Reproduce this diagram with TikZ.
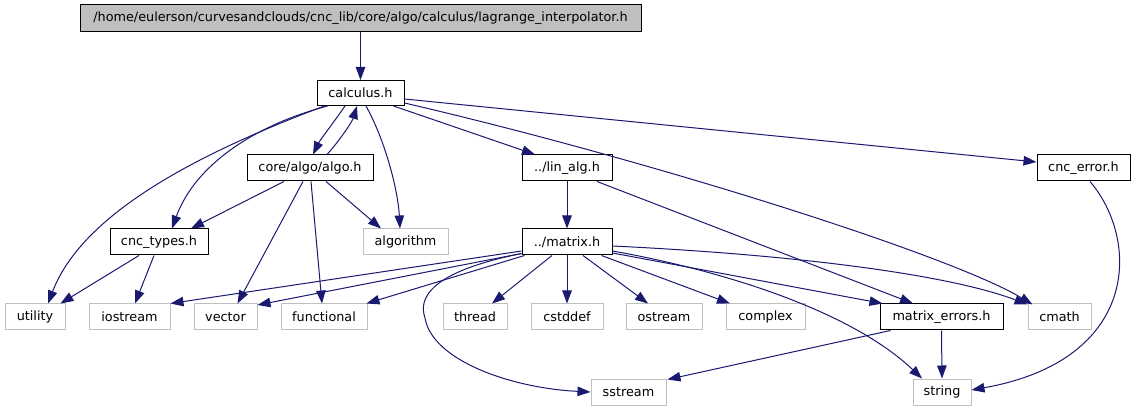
\documentclass[tikz,border=0pt]{standalone}
\usepackage{fontspec}
\setmainfont{DejaVu Sans}
\usetikzlibrary{arrows.meta,calc}
\definecolor{edgec}{HTML}{191970}
\definecolor{extc}{HTML}{BFBFBF}
\definecolor{rootfill}{HTML}{BFBFBF}
\begin{document}
\begin{tikzpicture}[x=1pt,y=-1pt,
  every node/.style={font=\fontsize{12.8}{15}\selectfont, inner sep=0pt, minimum height=26pt, anchor=center},
  doc/.style={draw=black, line width=1pt},
  ext/.style={draw=extc, line width=1pt},
  rootn/.style={draw=black, line width=1pt, fill=rootfill},
  e/.style={draw=edgec, line width=1pt, -{Triangle[length=13pt,width=9.5pt]}}]
\useasboundingbox (0,0) rectangle (1137,411);
% nodes
\node[rootn, minimum width=561pt, minimum height=27pt] (top) at (360.5,18.5) {/home/eulerson/curvesandclouds/cnc\_lib/core/algo/calculus/lagrange\_interpolator.h};
\node[doc, minimum width=87pt, minimum height=25pt] (calc) at (360.5,93) {calculus.h};
\node[doc, minimum width=126pt] (algo) at (310,168) {core/algo/algo.h};
\node[doc, minimum width=90pt] (lin) at (567,168) {../lin\_alg.h};
\node[doc, minimum width=93pt] (cerr) at (1083.5,168) {cnc\_error.h};
\node[doc, minimum width=98pt] (ctypes) at (159,242) {cnc\_types.h};
\node[ext, minimum width=85pt] (algm) at (405.5,242) {algorithm};
\node[doc, minimum width=90pt] (matrix) at (567,242) {../matrix.h};
\node[ext, minimum width=60pt] (util) at (35,317) {utility};
\node[ext, minimum width=81pt] (ios) at (129.5,317) {iostream};
\node[ext, minimum width=63pt] (vec) at (225.5,317) {vector};
\node[ext, minimum width=86pt] (func) at (324,317) {functional};
\node[ext, minimum width=64pt] (thread) at (475,317) {thread};
\node[ext, minimum width=72pt] (cstd) at (567,317) {cstddef};
\node[ext, minimum width=76pt] (ostr) at (664,317) {ostream};
\node[ext, minimum width=79pt] (cplx) at (765.5,317) {complex};
\node[doc, minimum width=123pt] (merr) at (941.5,317) {matrix\_errors.h};
\node[ext, minimum width=63pt] (cmath) at (1059.5,317) {cmath};
\node[ext, minimum width=75pt] (sstr) at (628.5,392) {sstream};
\node[ext, minimum width=58pt] (str) at (942,392) {string};
% edges
\draw[e] (top.south) -- (calc.north);
\draw[e] ($(calc.south west)+(8,0)$) .. controls (180,160) and (80,220) .. ($(util.north)+(13,0)$);
\draw[e] ($(calc.south west)+(11,0)$) .. controls (255,125) and (195,165) .. ($(ctypes.north)+(13,0)$);
\draw[e] ($(calc.south)+(-15.5,0)$) .. controls (334,122) and (320,140) .. ($(algo.north)+(3,0)$);
\draw[e] ($(algo.north)+(17,0)$) .. controls (340,140) and (352,122) .. ($(calc.south)+(-3.5,0)$);
\draw[e] ($(calc.south)+(5.5,0)$) .. controls (385,140) and (398,190) .. ($(algm.north)+(-5.5,0)$);
\draw[e] ($(calc.south east)+(-11,0)$) -- ($(lin.north)+(-32,0)$);
\draw[e] ($(calc.east)+(0,10)$) .. controls (650,160) and (950,255) .. ($(cmath.north west)+(5,1)$);
\draw[e] ($(calc.east)+(0,6)$) -- ($(cerr.west)+(0,-6)$);
\draw[e] ($(algo.south)+(-26,0)$) -- ($(ctypes.north)+(32,0)$);
\draw[e] ($(algo.south)+(-7,0)$) -- ($(vec.north)+(12,0)$);
\draw[e] ($(algo.south)+(1,0)$) -- ($(func.north)+(-2,0)$);
\draw[e] ($(algo.south)+(16,0)$) -- ($(algm.north)+(-24.5,0)$);
\draw[e] ($(ctypes.south)+(-20,0)$) -- ($(util.north east)+(-5,0)$);
\draw[e] ($(ctypes.south)+(-5,0)$) -- ($(ios.north)+(5.5,0)$);
\draw[e] (lin.south) -- (matrix.north);
\draw[e] ($(lin.south)+(30,0)$) -- ($(merr.north)+(-28.5,0)$);
\draw[e] ($(matrix.west)+(0,9)$) -- (ios.north east);
\draw[e] ($(matrix.south west)+(0,-2)$) -- ($(vec.north east)+(0,1.5)$);
\draw[e] ($(matrix.south west)+(3,0)$) -- ($(func.north east)+(-1,0)$);
\draw[e] ($(matrix.south west)+(0,-2)$) .. controls (430,272) and (418,298) .. (425,318) .. controls (432,360) and (510,388) .. (sstr.west);
\draw[e] ($(matrix.south)+(-15,0)$) -- ($(thread.north)+(17,0)$);
\draw[e] (matrix.south) -- (cstd.north);
\draw[e] ($(matrix.south)+(16,0)$) -- ($(ostr.north)+(-16,0)$);
\draw[e] ($(matrix.south east)+(-11,0)$) -- ($(cplx.north)+(-35.5,0)$);
\draw[e] ($(matrix.east)+(0,11)$) -- ($(merr.north west)+(3,0)$);
\draw[e] ($(matrix.east)+(0,9)$) .. controls (720,270) and (850,310) .. ($(str.north)+(-20,0)$);
\draw[e] ($(matrix.east)+(0,4)$) .. controls (800,255) and (950,275) .. ($(cmath.north west)+(0,1)$);
\draw[e] ($(merr.south west)+(11,0)$) -- ($(sstr.north east)+(1,1)$);
\draw[e] (merr.south) -- (str.north);
\draw[e] ($(cerr.south)+(6.5,0)$) .. controls (1140,240) and (1140,360) .. ($(str.east)+(0,-2)$);
\end{tikzpicture}
\end{document}
